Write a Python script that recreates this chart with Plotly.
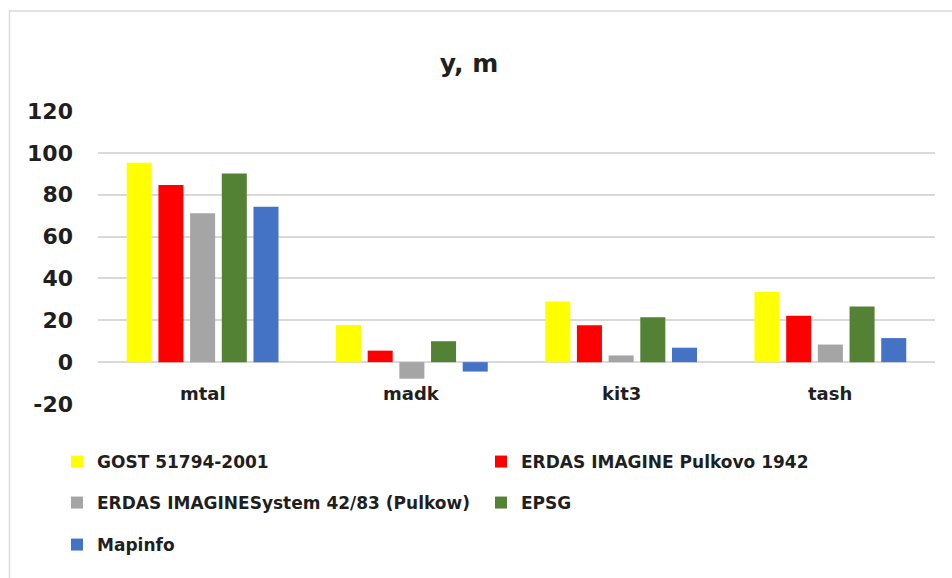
import plotly.graph_objects as go

# Stations on the category axis
stations = ["mtal", "madk", "kit3", "tash"]

# y offsets (m) for each coordinate system
gost = [95.3, 17.7, 29.0, 33.5]
erdas_pulkovo = [84.7, 5.5, 17.6, 22.2]
erdas_system = [71.1, -7.9, 3.2, 8.4]
epsg = [90.1, 10.0, 21.4, 26.6]
mapinfo = [74.3, -4.5, 6.9, 11.5]

y_ticks = [-20, 0, 20, 40, 60, 80, 100, 120]
y_tick_text = ["-20", "0", "20", "40", "60", "80", "100", "120"]

series = [
    ("GOST 51794-2001", gost, "#FFFF00", "legend"),
    ("ERDAS IMAGINE Pulkovo 1942", erdas_pulkovo, "#FF0000", "legend"),
    ("ERDAS IMAGINESystem 42/83 (Pulkow)", erdas_system, "#A5A5A5", "legend2"),
    ("EPSG", epsg, "#548235", "legend2"),
    ("Mapinfo", mapinfo, "#4472C4", "legend3"),
]

FONT = "DejaVu Sans"
TEXT = "#1f1f1f"
GRID = "#d9d9d9"

W, H = 952, 578
L, R, T, B = 98, 17, 111, 174
plot_w = W - L - R
plot_h = H - T - B


def px_x(px):
    return (px - L) / plot_w


def px_y(py):
    return (H - B - py) / plot_h


fig = go.Figure()
for name, vals, color, leg in series:
    fig.add_trace(go.Bar(
        x=stations, y=vals, name=name, marker_color=color,
        marker_line_width=0, legend=leg,
    ))

# category labels sit just under the zero line
for s in stations:
    fig.add_annotation(
        x=s, y=0, xref="x", yref="y", text="<b>%s</b>" % s, showarrow=False,
        yanchor="middle", yshift=-31,
        font=dict(family=FONT, size=18, color=TEXT),
    )

legend_common = dict(
    orientation="h", entrywidth=379, entrywidthmode="pixels",
    xanchor="left", yanchor="middle", bgcolor="rgba(0,0,0,0)",
    font=dict(family=FONT, size=17, color=TEXT, weight="bold"),
    itemclick=False, itemdoubleclick=False,
)

fig.update_layout(
    width=W, height=H,
    margin=dict(l=L, r=R, t=T, b=B),
    paper_bgcolor="white", plot_bgcolor="white",
    barmode="group", bargap=0.243, bargroupgap=0.21,
    title=dict(
        text="<b>y, m</b>", x=469 / W, xanchor="center",
        y=1 - 63 / H, yanchor="middle", xref="container", yref="container",
        font=dict(family=FONT, size=25, color=TEXT),
    ),
    xaxis=dict(showticklabels=False, showgrid=False, zeroline=False,
               showline=False, ticks=""),
    yaxis=dict(
        range=[-20, 120], tickvals=y_ticks, ticktext=y_tick_text,
        showgrid=True, gridcolor=GRID,
        gridwidth=1.5, zeroline=True, zerolinecolor=GRID, zerolinewidth=1.5,
        showline=False, ticks="", ticklabelstandoff=24,
        tickfont=dict(family=FONT, size=22, color=TEXT, weight="bold"),
    ),
    legend=dict(legend_common, x=px_x(57), y=px_y(462)),
    legend2=dict(legend_common, x=px_x(57), y=px_y(503)),
    legend3=dict(legend_common, x=px_x(57), y=px_y(545)),
    showlegend=True,
    shapes=[dict(
        type="rect", xref="paper", yref="paper",
        x0=px_x(9.5), x1=px_x(960), y0=px_y(590), y1=px_y(11),
        line=dict(color=GRID, width=1.5), fillcolor="rgba(0,0,0,0)",
        layer="below",
    )],
)

fig.write_html("out.html")
